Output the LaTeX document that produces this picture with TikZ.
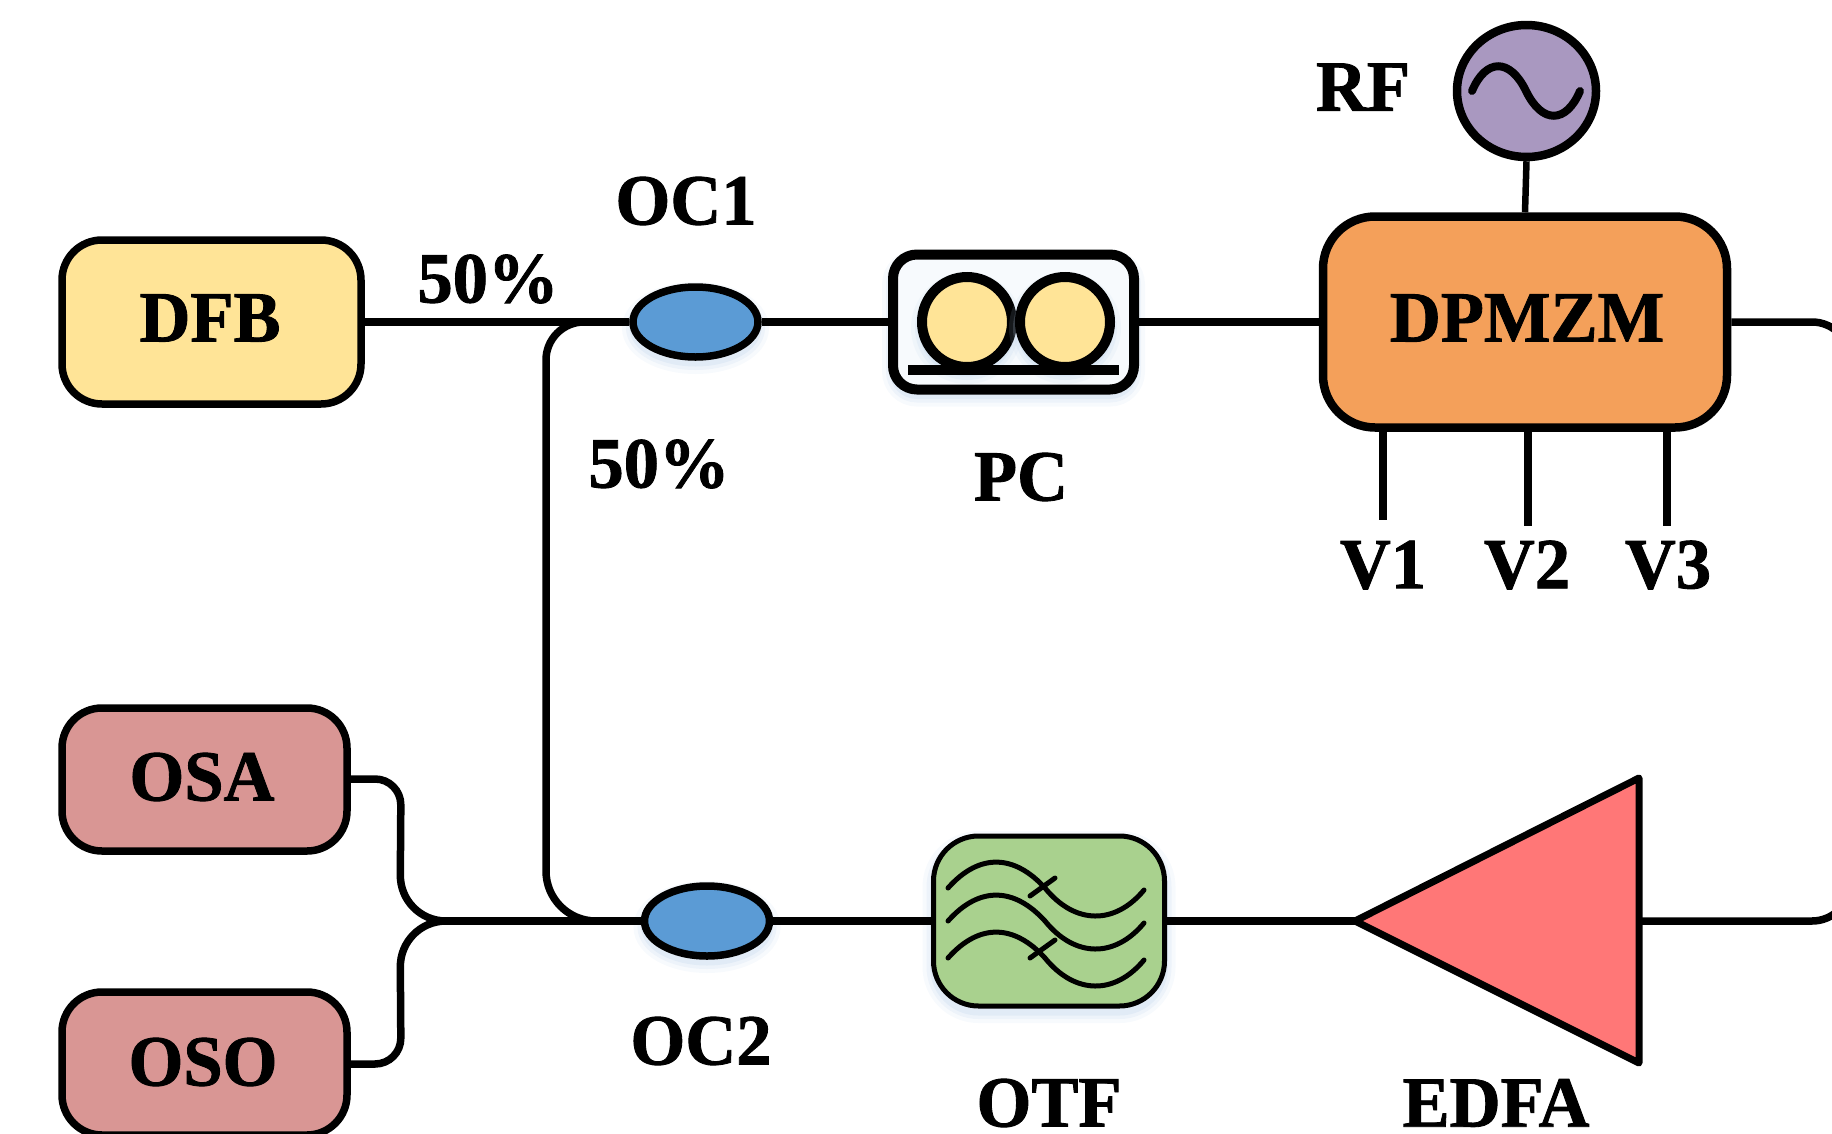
\documentclass[tikz,border=0pt]{standalone}
\usepackage{fontspec}
\setmainfont{Liberation Serif}[BoldFeatures={FakeBold=1.2}]
\definecolor{cyellow}{HTML}{FFE497}
\definecolor{cblue}{HTML}{5B9BD5}
\definecolor{corange}{HTML}{F4A05A}
\definecolor{cpurple}{HTML}{A998C0}
\definecolor{cred}{HTML}{D99694}
\definecolor{cgreen}{HTML}{A9D18E}
\definecolor{cpink}{HTML}{FF7777}
\definecolor{cglow}{HTML}{BDD3EC}
\usetikzlibrary{shapes.geometric}
\tikzset{
  x=1pt,y=-1pt,
  wire/.style={line width=7.5pt,black},
  lab/.style={font=\fontsize{72}{72}\selectfont\bfseries,inner sep=0pt,anchor=center,xscale=.98},
  glow/.style={
    preaction={draw=cglow,draw opacity=.12,fill=none,line width=22pt,transform canvas={yshift=-6pt}},
    preaction={draw=cglow,draw opacity=.18,fill=none,line width=14pt,transform canvas={yshift=-6pt}},
    preaction={draw=cglow,draw opacity=.25,fill=none,line width=7pt,transform canvas={yshift=-6pt}}},
  boxA/.style={draw=black,line width=7.5pt,rounded corners=40pt,inner sep=0pt},
  oval/.style={ellipse,draw=black,line width=7.5pt,fill=cblue,inner sep=0pt,minimum width=125pt,minimum height=70pt,glow},
  pcroll/.style={circle,draw=black,line width=10pt,fill=cyellow,minimum size=90pt,inner sep=0pt,glow},
  ticks/.style={line width=5pt,line cap=round},
  stem/.style={line width=7.5pt},
}
\begin{document}
\begin{tikzpicture}
\useasboundingbox (0,0) rectangle (1832,1133);
% connection points
\coordinate (top1) at (546,322);
\coordinate (bot1) at (546,921);
\coordinate (join) at (400,921);
\coordinate (joinR) at (445,921);
\coordinate (edgeA) at (1850,322);
\coordinate (edgeB) at (1850,921);
\coordinate (elbowA) at (401,779);
\coordinate (elbowB) at (401,1064);
% nodes
\node[boxA,fill=cyellow,minimum width=299pt,minimum height=164pt] (dfb) at (211.5,322) {};
\node[oval] (oc1) at (695.5,322) {};
\node[oval] (oc2) at (707,921) {};
\node[draw=black,line width=10pt,rounded corners=24pt,fill=cglow!12!white,minimum width=241pt,minimum height=135pt,inner sep=0pt,glow] (pc) at (1013.5,322) {};
\node[boxA,line width=8.5pt,fill=corange,minimum width=404pt,minimum height=211pt,rounded corners=52pt] (mzm) at (1525,322) {};
\node[ellipse,draw=black,line width=8.5pt,fill=cpurple,minimum width=139pt,minimum height=132pt,inner sep=0pt] (rf) at (1526.5,91) {};
\node[boxA,fill=cred,minimum width=285pt,minimum height=143pt] (osa) at (204.5,779.5) {};
\node[boxA,fill=cred,minimum width=285pt,minimum height=143pt] (oso) at (204.5,1063.5) {};
\node[draw=black,line width=5pt,rounded corners=45pt,fill=cgreen,minimum width=231pt,minimum height=170pt,inner sep=0pt,glow] (otf) at (1049,921) {};
\coordinate (tipE) at (1355,921);
\coordinate (topE) at (1639,778);
\coordinate (botE) at (1639,1063);
\coordinate (backE) at (1639,921);
% connectors
\draw[wire] (dfb.east) -- (oc1.west);
\draw[wire] (oc1.east) -- (pc.west);
\draw[wire] (pc.east) -- (mzm.west);
\draw[wire,line width=6.5pt] (rf.south) -- (mzm.north);
\draw[wire] (oc2.east) -- (otf.west);
\draw[wire] (otf.east) -- (tipE);
\draw[wire,rounded corners=38pt] (oc1.west) -- (top1) [rounded corners=50pt] -- (bot1) -- (oc2.west);
\draw[wire] (joinR) -- (oc2.west);
\draw[wire,rounded corners=26pt] (osa.east |- elbowA) -- (elbowA) [rounded corners=46pt] -- (join) -- (joinR);
\draw[wire,rounded corners=26pt] (oso.east |- elbowB) -- (elbowB) [rounded corners=46pt] -- (join) -- (joinR);
\draw[wire,rounded corners=38pt] (mzm.east) -- (edgeA) -- (edgeB) -- (backE);
% PC inner
\node[pcroll] (c1) at (967,322) {};
\node[pcroll] (c2) at (1065,322) {};
\fill[black] (908,365) rectangle (1119,375);
% RF sine
\draw[line width=8pt,line cap=round] (1472,91) .. controls (1486,58) and (1510,58) .. (1526,91) .. controls (1542,124) and (1566,124) .. (1580,91);
% OTF waves
\foreach \d in {0,33,70}{
  \draw[ticks] (948,888+\d) .. controls (980,852+\d) and (1015,855+\d) .. (1045,888+\d) .. controls (1075,925+\d) and (1115,925+\d) .. (1144,890+\d);
}
\draw[ticks] (1030,896) -- (1055,878);
\draw[ticks] (1030,958) -- (1055,940);
% EDFA
\draw[line width=7pt,line join=round,fill=cpink] (tipE) -- (topE) -- (botE) -- cycle;
% stems
\coordinate (v1) at (1383,520);
\coordinate (v2) at (1528,526);
\coordinate (v3) at (1667,526);
\draw[stem] (v1 |- mzm.south) -- (v1);
\draw[stem] (v2 |- mzm.south) -- (v2);
\draw[stem] (v3 |- mzm.south) -- (v3);
% labels
\node[lab] (tdfb) at (210,318) {DFB};
\node[lab] (tmzm) at (1527,318) {DPMZM};
\node[lab] (tosa) at (202,777) {OSA};
\node[lab] (toso) at (203,1062) {OSO};
\node[lab] (trf) at (1363,87) {RF};
\node[lab] (toc1) at (686,201) {OC1};
\node[lab] (toc2) at (701,1041) {OC2};
\node[lab] (tp1) at (488,279) {50\%};
\node[lab] (tp2) at (659,464) {50\%};
\node[lab] (tpc) at (1021,477) {PC};
\node[lab] (tv1) at (1383,565) {V1};
\node[lab] (tv2) at (1527,565) {V2};
\node[lab] (tv3) at (1668,565) {V3};
\node[lab] (totf) at (1049,1103) {OTF};
\node[lab] (tedfa) at (1496,1103) {EDFA};
\end{tikzpicture}
\end{document}
